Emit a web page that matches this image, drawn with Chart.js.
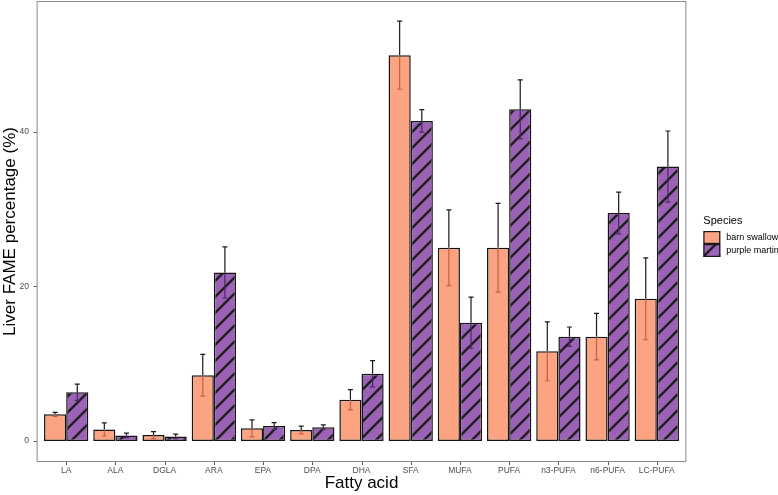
<html>
<head>
    <meta charset="utf-8">
    <script src="https://cdn.jsdelivr.net/npm/chart.js@4.4.0/dist/chart.umd.min.js"></script>
    <style>
        body { margin:0; background:#fff; }
        #wrap { width:778px; height:495px; }
    </style>
</head>
<body>
<div id="wrap"><canvas id="myChart" width="778" height="495"></canvas></div>
<script>
    // fatty acid groups and the mean / error values
    var categories = ['LA','ALA','DGLA','ARA','EPA','DPA','DHA','SFA','MUFA','PUFA','n3-PUFA','n6-PUFA','LC-PUFA'];
    var barnSwallow = [3.45, 1.5, 0.77, 8.5, 1.64, 1.42, 5.34, 49.9, 25.0, 25.0, 11.6, 13.5, 18.4];
    var barnSwallowErr = [0.25, 0.85, 0.45, 2.7, 1.1, 0.5, 1.3, 4.4, 4.9, 5.75, 3.8, 3.0, 5.3];
    var purpleMartin = [6.3, 0.73, 0.6, 21.8, 1.94, 1.8, 8.7, 41.4, 15.3, 42.9, 13.5, 29.5, 35.5];
    var purpleMartinErr = [1.05, 0.3, 0.3, 3.3, 0.45, 0.3, 1.7, 1.45, 3.3, 3.8, 1.25, 2.7, 4.6];
    var yTicks = [0, 20, 40];
    var yMin = -2.71, yMax = 56.91;

    var FONT = "'Liberation Sans', Arial, sans-serif";
    var barnColor = '#FCA382';
    var purpleColor = '#9B62B6';

    // diagonal hatch for the purple martin bars
    function makeHatch(bg) {
        var c = document.createElement('canvas');
        c.width = 16; c.height = 16;
        var g = c.getContext('2d');
        g.fillStyle = bg;
        g.fillRect(0, 0, 16, 16);
        g.strokeStyle = '#1e1e1e';
        g.lineWidth = 2.3;
        g.beginPath();
        g.moveTo(-4, 20); g.lineTo(20, -4);
        g.moveTo(-4, 4); g.lineTo(4, -4);
        g.moveTo(12, 20); g.lineTo(20, 12);
        g.stroke();
        return g.createPattern(c, 'repeat');
    }
    var hatch = makeHatch(purpleColor);

    var errors = [barnSwallowErr, purpleMartinErr];
    var errInner = ['#C4603E', '#4E2468'];

    // error bars, panel border, tick marks and legend
    var extras = {
        id: 'extras',
        afterDatasetsDraw: function(chart) {
            var ctx = chart.ctx, y = chart.scales.y;
            ctx.save();
            ctx.lineWidth = 1.2;
            chart.data.datasets.forEach(function(ds, di) {
                var meta = chart.getDatasetMeta(di);
                meta.data.forEach(function(bar, i) {
                    var v = ds.data[i], e = errors[di][i];
                    var top = y.getPixelForValue(v + e), bot = y.getPixelForValue(v - e);
                    var x = bar.x, cap = 2.5;
                    ctx.strokeStyle = '#1a1a1a';
                    ctx.beginPath();
                    ctx.moveTo(x, top); ctx.lineTo(x, bar.y);
                    ctx.moveTo(x - cap, top); ctx.lineTo(x + cap, top);
                    ctx.stroke();
                    ctx.strokeStyle = errInner[di];
                    ctx.beginPath();
                    ctx.moveTo(x, bar.y); ctx.lineTo(x, bot);
                    ctx.moveTo(x - cap, bot); ctx.lineTo(x + cap, bot);
                    ctx.stroke();
                });
            });
            ctx.restore();
        },
        afterDraw: function(chart) {
            var ctx = chart.ctx, xs = chart.scales.x, ys = chart.scales.y, a = chart.chartArea;
            var left = xs.getPixelForValue(-0.6), right = xs.getPixelForValue(categories.length - 0.4);
            ctx.save();
            ctx.strokeStyle = '#8a8a8a';
            ctx.lineWidth = 1;
            ctx.strokeRect(left + 0.5, a.top + 0.5, right - left - 1, a.bottom - a.top - 1);
            // tick marks
            ctx.strokeStyle = '#555';
            ctx.beginPath();
            yTicks.forEach(function(t) {
                var py = Math.round(ys.getPixelForValue(t)) + 0.5;
                ctx.moveTo(left - 3, py); ctx.lineTo(left, py);
            });
            categories.forEach(function(c, i) {
                var px = Math.round(xs.getPixelForValue(i)) + 0.5;
                ctx.moveTo(px, a.bottom); ctx.lineTo(px, a.bottom + 3);
            });
            ctx.stroke();

            // legend
            var lx = right + 17, ly = 221;
            ctx.fillStyle = '#000';
            ctx.font = '11px ' + FONT;
            ctx.textBaseline = 'middle';
            ctx.textAlign = 'left';
            ctx.fillText('Species', lx, ly);
            ctx.font = '9px ' + FONT;
            chart.data.datasets.forEach(function(ds, di) {
                var by = 231 + di * 13;
                ctx.fillStyle = ds.backgroundColor;
                ctx.fillRect(lx, by, 17, 13);
                ctx.strokeStyle = '#1a1a1a';
                ctx.lineWidth = 1.2;
                ctx.strokeRect(lx + 0.6, by + 0.6, 15.8, 11.8);
                ctx.fillStyle = '#000';
                ctx.fillText(ds.label, lx + 23, by + 6.5);
            });
            ctx.restore();
        }
    };

    // panel goes 0.6 category past the first and last bars, like ggplot
    var panelLeft = 37, panelRight = 686;
    var cw = (panelRight - panelLeft) / (categories.length + 1.2);
    var areaLeft = panelLeft + 0.1 * cw, areaRight = panelRight - 0.1 * cw;

    var ctx = document.getElementById('myChart').getContext('2d');
    var chart = new Chart(ctx, {
        type: 'bar',
        data: {
            labels: categories,
            datasets: [{
                label: 'barn swallow',
                data: barnSwallow,
                backgroundColor: barnColor,
                borderColor: '#141414',
                borderWidth: 1.5,
                borderSkipped: false
            }, {
                label: 'purple martin',
                data: purpleMartin,
                backgroundColor: hatch,
                borderColor: '#141414',
                borderWidth: 1.5,
                borderSkipped: false
            }]
        },
        options: {
            responsive: false,
            animation: false,
            layout: { padding: { top: 1, right: 778 - areaRight, bottom: 0, left: 0 } },
            datasets: { bar: { categoryPercentage: 0.9, barPercentage: 1.0 } },
            plugins: { legend: { display: false }, tooltip: { enabled: false } },
            scales: {
                x: {
                    grid: { display: false, drawTicks: false },
                    border: { display: false },
                    ticks: { color: '#4d4d4d', font: { family: FONT, size: 8.5 }, padding: 4, maxRotation: 0, autoSkip: false },
                    title: { display: true, text: 'Fatty acid', color: '#000', font: { family: FONT, size: 17 }, padding: { top: 0, bottom: 1 } },
                    afterFit: function(s) { s.height = 33; s.paddingLeft = 0; s.paddingRight = 0; }
                },
                y: {
                    min: yMin,
                    max: yMax,
                    grid: { display: false, drawTicks: false },
                    border: { display: false },
                    ticks: { color: '#4d4d4d', font: { family: FONT, size: 8.5 }, padding: 12.5 },
                    afterBuildTicks: function(s) { s.ticks = yTicks.map(function(v) { return { value: v }; }); },
                    title: { display: true, text: 'Liver FAME percentage (%)', color: '#000', font: { family: FONT, size: 17 }, padding: { top: 0, bottom: 0 } },
                    afterFit: function(s) { s.width = areaLeft; s.paddingTop = 0; s.paddingBottom = 0; }
                }
            }
        },
        plugins: [extras]
    });
</script>
</body>
</html>
